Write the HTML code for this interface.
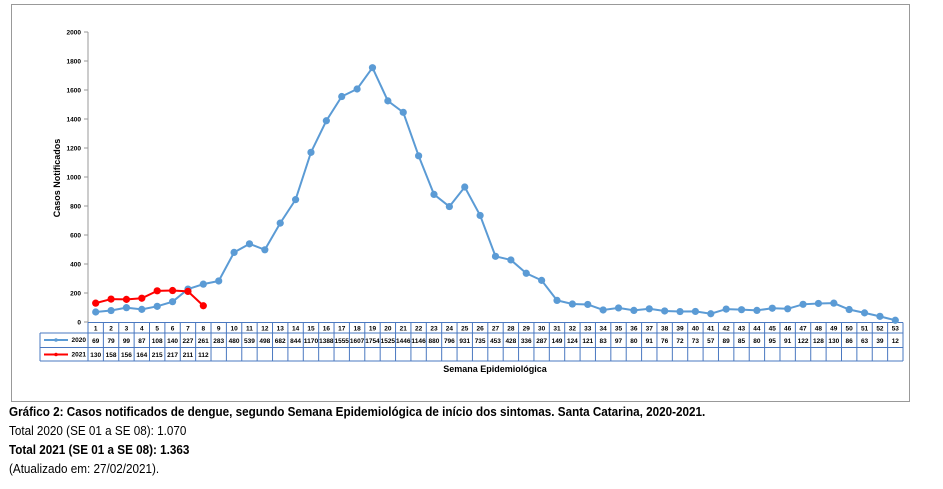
<!DOCTYPE html>
<html><head><meta charset="utf-8"><style>
body{margin:0;background:#fff;width:943px;height:489px;overflow:hidden;font-family:"Liberation Sans",sans-serif}
.cap{position:absolute;left:9px;font-size:12.5px;color:#000;white-space:nowrap;transform:scaleX(0.935);transform-origin:left top}
</style></head><body>
<svg id="chart" width="943" height="405" style="position:absolute;left:0;top:0" font-family="Liberation Sans, sans-serif">
<rect x="11.5" y="4.5" width="898" height="397" fill="#fff" stroke="#999"/>
<g id="axes"></g><g id="table"></g><g id="series"></g>
<text transform="translate(60,178) rotate(-90)" text-anchor="middle" font-size="9" font-weight="bold">Casos Notificados</text>
<text x="495" y="372" text-anchor="middle" font-size="9" font-weight="bold">Semana Epidemiológica</text>
</svg>
<div class="cap" style="top:405px;font-weight:bold">Gráfico 2: Casos notificados de dengue, segundo Semana Epidemiológica de início dos sintomas. Santa Catarina, 2020-2021.</div>
<div class="cap" style="top:424px">Total 2020 (SE 01 a SE 08): 1.070</div>
<div class="cap" style="top:443px;font-weight:bold">Total 2021 (SE 01 a SE 08): 1.363</div>
<div class="cap" style="top:462px">(Atualizado em: 27/02/2021).</div>
<script>
const weeks=[];for(let i=1;i<=53;i++)weeks.push(i);
const values2020=[69,79,99,87,108,140,227,261,283,480,539,498,682,844,1170,1388,1555,1607,1754,1525,1446,1146,880,796,931,735,453,428,336,287,149,124,121,83,97,80,91,76,72,73,57,89,85,80,95,91,122,128,130,86,63,39,12];
const values2021=[130,158,156,164,215,217,211,112];
const yTicks=[0,200,400,600,800,1000,1200,1400,1600,1800,2000];
const NS="http://www.w3.org/2000/svg";
const x0=88,x1=903,cw=(x1-x0)/53;
const xs=i=>x0+cw*(i+0.5);
const ys=v=>322-v*0.145;
function mk(tag,attrs,parent,txt){const e=document.createElementNS(NS,tag);for(const k in attrs)if(attrs[k]!=null)e.setAttribute(k,attrs[k]);if(txt!=null)e.textContent=txt;parent.appendChild(e);return e;}
const ax=document.getElementById('axes');
const yl=mk('line',{x1:x0,x2:x0,y1:ys(2000),y2:ys(0),stroke:'#999'},ax);


yTicks.forEach(t=>{
 const l=mk('line',{x1:x0-4,x2:x0,y1:ys(t),y2:ys(t),stroke:'#999'},ax);
 
 
 const tx=mk('text',{x:x0-7,y:ys(t)+2.5,'text-anchor':'end','font-size':'6.5','font-weight':'bold'},ax,t);
 
 
});
const tb=document.getElementById('table');
const rows=[322.5,333,347.5,361];
const bl='#4a78c0';
rows.forEach((y,ri)=>{const l=mk('line',{x1:ri==0?x0:40,x2:x1,y1:y,y2:y,stroke:bl,'stroke-width':1},tb);});
mk('line',{x1:40,x2:40,y1:333,y2:361,stroke:bl},tb);
for(let i=0;i<=53;i++){const l=mk('line',{x1:x0+cw*i,x2:x0+cw*i,y1:322.5,y2:361,stroke:bl},tb);}
weeks.forEach((w,i)=>{const t=mk('text',{x:xs(i),y:330.5,'text-anchor':'middle','font-size':'6.5','font-weight':'bold'},tb,w);});
values2020.forEach((v,i)=>{const t=mk('text',{x:xs(i),y:343,'text-anchor':'middle','font-size':'6.5','font-weight':'bold',textLength:v>=1000?cw-1:null,lengthAdjust:v>=1000?'spacingAndGlyphs':null},tb,v);});
values2021.forEach((v,i)=>{const t=mk('text',{x:xs(i),y:357,'text-anchor':'middle','font-size':'6.5','font-weight':'bold'},tb,v);});
[['2020','#5b9bd5',340],['2021','#ff0000',354.5]].forEach(([n,c,y])=>{
 const g=mk('g',{},tb);
 
 
 mk('line',{x1:44,x2:68,y1:y,y2:y,stroke:c,'stroke-width':2},g);
 mk('circle',{cx:56,cy:y,r:1.8,fill:c},g);
 mk('text',{x:86,y:y+2,'text-anchor':'end','font-size':'6.5','font-weight':'bold'},g,n);
});
const se=document.getElementById('series');
function series(vals,color,name){
 const p=mk('polyline',{points:vals.map((v,i)=>xs(i)+','+ys(v)).join(' '),fill:'none',stroke:color,'stroke-width':2},se);
 
 
 vals.forEach((v,i)=>{const c=mk('circle',{cx:xs(i),cy:ys(v),r:3.6,fill:color},se);});
}
series(values2020,'#5b9bd5','2020');
series(values2021,'#ff0000','2021');
</script>
</body></html>
